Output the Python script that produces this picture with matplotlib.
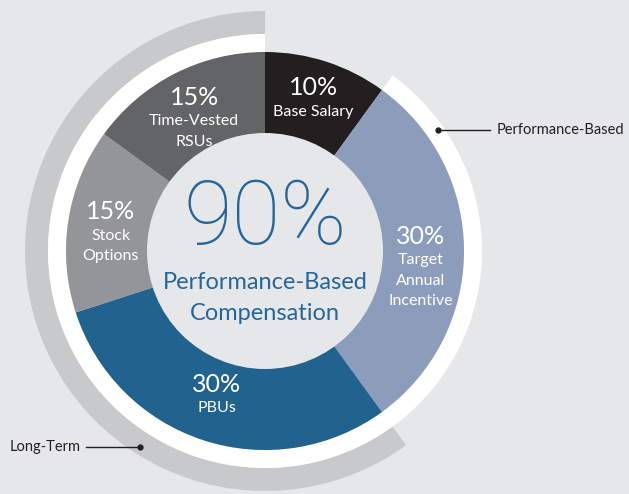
import numpy as np
import matplotlib.pyplot as plt
from matplotlib.patches import Wedge, Circle

# data
labels = ["Base Salary", "Target\nAnnual\nIncentive", "PBUs", "Stock\nOptions", "Time-Vested\nRSUs"]
shares = [10, 30, 30, 15, 15]
colors = ["#231f20", "#8c9dbb", "#22628e", "#939598", "#636466"]
perf_based = [False, True, True, True, True]
long_term = [False, False, True, True, True]

bg = "#e6e7e9"
blue_txt = "#25669a"
font = "Lato"

fig = plt.figure(figsize=(6.29, 4.94), dpi=100, facecolor=bg)
ax = fig.add_axes([0, 0, 1, 1])
ax.set_xlim(0, 629)
ax.set_ylim(494, 0)
ax.set_aspect("equal")
ax.axis("off")

cx, cy = 265, 251
r_out, r_in = 199, 118
r_white, r_gray = 217, 240

# angles: start at 12 o'clock, clockwise
bounds = np.concatenate([[0], np.cumsum(shares)]) / sum(shares) * 360


def to_mpl(a):
    # clockwise-from-top (y axis inverted) -> matplotlib theta in data coords
    return a - 90


def span(flags):
    idx = [i for i, f in enumerate(flags) if f]
    return bounds[idx[0]], bounds[idx[-1] + 1]

# outer rings
a0, a1 = span(long_term)
ax.add_patch(Wedge((cx, cy), r_gray, to_mpl(a0), to_mpl(a1), width=r_gray - r_white,
                   facecolor="#c8c9cb", edgecolor="none"))
a0, a1 = span(perf_based)
ax.add_patch(Wedge((cx, cy), r_white, to_mpl(a0), to_mpl(a1), width=r_white - r_out,
                   facecolor="white", edgecolor="none"))

# slices
for i in range(len(shares)):
    ax.add_patch(Wedge((cx, cy), r_out, to_mpl(bounds[i]), to_mpl(bounds[i + 1]),
                       facecolor=colors[i], edgecolor="none"))
ax.add_patch(Circle((cx, cy), r_in, facecolor=bg, edgecolor="none"))

# slice labels
r_lab = 156
for i in range(len(shares)):
    mid = np.deg2rad((bounds[i] + bounds[i + 1]) / 2)
    x = cx + r_lab * np.sin(mid)
    y = cy - r_lab * np.cos(mid) - 15
    ax.text(x, y, f"{shares[i]}%", color="white", fontsize=18, family=font,
            ha="center", va="center")
    for k, line in enumerate(labels[i].split("\n")):
        ax.text(x, y + 24 + 20.5 * k, line, color="white", fontsize=11.5, family=font,
                ha="center", va="center")

# centre text
ax.text(cx, 219, "90%", color=blue_txt, fontsize=64, family="Roboto", weight="light",
        ha="center", va="center")
ax.text(cx, 282, "Performance-Based", color=blue_txt, fontsize=17, family=font,
        ha="center", va="center")
ax.text(cx, 313, "Compensation", color=blue_txt, fontsize=17, family=font,
        ha="center", va="center")

# callouts
ax.plot([438, 490], [130, 130], color="#231f20", lw=1)
ax.plot([438], [130], "o", color="#231f20", ms=3.5)
ax.text(497, 130, "Performance-Based", fontsize=10.5, family=font, color="#231f20",
        ha="left", va="center")
ax.plot([86, 140], [447, 447], color="#231f20", lw=1)
ax.plot([140], [447], "o", color="#231f20", ms=3.5)
ax.text(10, 447, "Long-Term", fontsize=10.5, family=font, color="#231f20",
        ha="left", va="center")

fig.savefig("out.png", dpi=100, facecolor=bg)
